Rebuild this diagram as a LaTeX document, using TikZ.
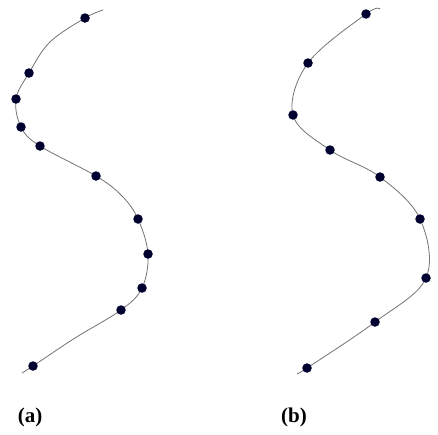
\documentclass[tikz,border=0pt]{standalone}
\usepackage{fontspec}
\setmainfont{Liberation Serif}
\begin{document}
\begin{tikzpicture}[x=1pt,y=-1pt,
  curve/.style={draw=black!55,line width=0.8pt},
  dot/.style={circle,fill=black!70!blue!60!black,draw=none,inner sep=0pt,minimum size=9.5pt},
  lab/.style={font=\fontsize{21}{23}\selectfont\bfseries,inner sep=0pt}]
\useasboundingbox (0,0) rectangle (438,434);
% (a)
\foreach \n/\x/\y in {a1/85/18,a2/29/73,a3/16/99,a4/21/127,a5/40/146,a6/96/176,a7/138/219,a8/148/254,a9/142/288,a10/121/310,a11/33/366}
  \coordinate (\n) at (\x,\y);
\draw[curve] plot[smooth,tension=0.6] coordinates {(103,10) (85,18) (50,42) (29,73) (16,99) (21,127) (40,146) (96,176) (122,196) (138,219) (148,254) (142,288) (121,310) (75,338) (33,366) (22,373)};
\foreach \n in {a1,a2,a3,a4,a5,a6,a7,a8,a9,a10,a11} \node[dot] at (\n) {};
% (b)
\foreach \n/\x/\y in {b1/366/14,b2/308/63,b3/293/115,b4/330/150,b5/380/177,b6/420/219,b7/426/278,b8/375/322,b9/307/368}
  \coordinate (\n) at (\x,\y);
\draw[curve] plot[smooth,tension=0.6] coordinates {(380,9) (366,14) (308,63) (293,115) (330,150) (380,177) (420,219) (426,278) (375,322) (307,368) (298,373)};
\foreach \n in {b1,b2,b3,b4,b5,b6,b7,b8,b9} \node[dot] at (\n) {};
\node[lab] (la) at (30,417) {(a)};
\node[lab] (lb) at (294,417) {(b)};
\end{tikzpicture}
\end{document}
